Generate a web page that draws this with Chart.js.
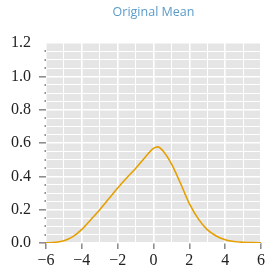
<!DOCTYPE html>
<html>
<head>
<meta charset="utf-8">
<script src="https://cdn.jsdelivr.net/npm/chart.js@4/dist/chart.umd.min.js"></script>
<style>
  html, body { margin: 0; padding: 0; background: #fff; }
  #wrap { width: 265px; height: 271px; }
</style>
</head>
<body>
<div id="wrap"><canvas id="grafico"></canvas></div>
<script>
// Datos (x, densidad)
var valores_x = [-6, -5.5, -5, -4.5, -4, -3.5, -3, -2.5, -2, -1.5, -1, -0.5, -0.25, 0, 0.25, 0.5, 1, 1.5, 2, 2.5, 3, 3.5, 4, 4.5, 5, 5.5, 6];
var valores_y = [0.001, 0.004, 0.013, 0.038, 0.082, 0.14, 0.2, 0.265, 0.33, 0.39, 0.447, 0.51, 0.542, 0.568, 0.577, 0.556, 0.475, 0.36, 0.236, 0.145, 0.08, 0.042, 0.02, 0.009, 0.004, 0.002, 0.001];
var titulo = 'Original Mean';

var puntos = valores_x.map(function (x, i) { return { x: x, y: valores_y[i] }; });

function esMayorY(v) { return Math.abs(v / 0.2 - Math.round(v / 0.2)) < 1e-6; }
function esMayorX(v) { return Math.abs(v / 2 - Math.round(v / 2)) < 1e-6; }

// Fondo gris del área de dibujo y marcas menores del eje y
var fondoPlugin = {
  id: 'fondo',
  beforeDraw: function (chart) {
    var a = chart.chartArea, ctx = chart.ctx;
    ctx.save();
    ctx.fillStyle = '#e5e5e5';
    ctx.fillRect(a.left, a.top, a.right - a.left, a.bottom - a.top);
    ctx.restore();
  },
  afterDraw: function (chart) {
    var ctx = chart.ctx, sy = chart.scales.y, a = chart.chartArea;
    ctx.save();
    ctx.fillStyle = '#222';
    sy.ticks.forEach(function (t) {
      if (!esMayorY(t.value)) {
        var py = Math.round(sy.getPixelForValue(t.value));
        ctx.fillRect(a.left - 1.5, py - 0.5, 1.5, 1);
      }
    });
    ctx.restore();
  }
};

var ctx = document.getElementById('grafico').getContext('2d');
var grafico = new Chart(ctx, {
  type: 'line',
  data: {
    datasets: [{
      data: puntos,
      borderColor: '#e69f00',
      borderWidth: 1.6,
      pointRadius: 0,
      cubicInterpolationMode: 'monotone',
      fill: false
    }]
  },
  options: {
    responsive: true,
    maintainAspectRatio: false,
    animation: false,
    layout: { padding: { left: 0, right: 4, top: 0, bottom: 0 } },
    plugins: {
      legend: { display: false },
      tooltip: { enabled: false },
      title: {
        display: true,
        fullSize: false,
        text: titulo,
        color: '#5a9bc9',
        font: { family: 'Open Sans', size: 12.5, weight: 'normal' },
        padding: { top: 5, bottom: 23 }
      }
    },
    scales: {
      x: {
        type: 'linear',
        min: -6,
        max: 6,
        border: { display: false },
        ticks: {
          stepSize: 1,
          autoSkip: false,
          maxRotation: 0,
          padding: 2,
          color: '#222',
          font: { family: 'Liberation Serif', size: 16 },
          callback: function (v) {
            if (!esMayorX(v)) return '';
            return v < 0 ? '\u2212' + Math.abs(v) : String(v);
          }
        },
        grid: {
          color: '#ffffff',
          lineWidth: function (c) { return esMayorX(c.tick.value) ? 1.6 : 1; },
          tickLength: 6,
          tickColor: function (c) { return esMayorX(c.tick.value) ? '#888' : 'transparent'; },
          tickWidth: 1.5
        },
        afterFit: function (s) { s.height = 28; s.paddingLeft = 0; s.paddingRight = 0; }
      },
      y: {
        min: 0,
        max: 1.2,
        border: { display: false },
        ticks: {
          stepSize: 0.05,
          autoSkip: false,
          padding: 8,
          color: '#222',
          font: { family: 'Liberation Serif', size: 16 },
          callback: function (v) { return esMayorY(v) ? v.toFixed(1) : ''; }
        },
        grid: {
          color: '#ffffff',
          lineWidth: function (c) { return esMayorY(c.tick.value) ? 1.6 : 1; },
          tickLength: 7,
          tickColor: function (c) {
            return (esMayorY(c.tick.value) && c.tick.value < 1.19) ? '#888' : 'transparent';
          },
          tickWidth: 1.5
        },
        afterFit: function (s) { s.width = 46; s.paddingTop = 0; s.paddingBottom = 0; }
      }
    }
  },
  plugins: [fondoPlugin]
});
</script>
</body>
</html>
